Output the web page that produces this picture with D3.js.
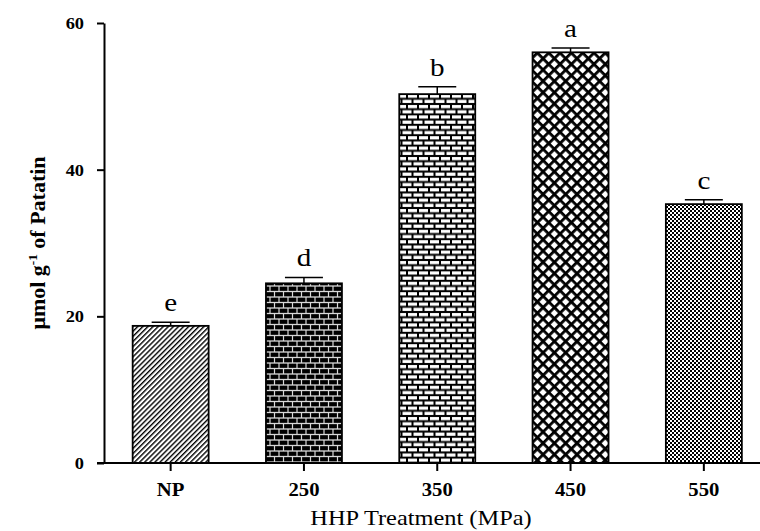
<!DOCTYPE html>
<html>
<head>
<meta charset="utf-8">
<script src="https://cdn.jsdelivr.net/npm/d3@7"></script>
<style>
  body { margin: 0; background: #fff; }
  text { font-family: "Liberation Serif", "DejaVu Serif", serif; fill: #000; }
</style>
</head>
<body>
<svg id="chart" width="760" height="531"></svg>
<script>
// values
var categories = ["NP", "250", "350", "450", "550"];
var means = [18.7, 24.5, 50.3, 56.0, 35.3];
var errors = [0.5, 0.8, 1.0, 0.6, 0.6];
var letters = ["e", "d", "b", "a", "c"];
var fills = ["p-diag", "p-brick-dark", "p-brick-light", "p-cross", "p-check"];
var yTicks = [0, 20, 40, 60];

var svg = d3.select("#chart");
var defs = svg.append("defs");

// hatch patterns
var diag = defs.append("pattern").attr("id", "p-diag")
    .attr("patternUnits", "userSpaceOnUse")
    .attr("width", 3.6).attr("height", 3.6)
    .attr("patternTransform", "rotate(45)");
diag.append("rect").attr("width", 3.6).attr("height", 3.6).attr("fill", "#fff");
diag.append("rect").attr("width", 1.4).attr("height", 3.6).attr("fill", "#000");

function brick(id, w, h, bg, fg, bw, bh) {
    var p = defs.append("pattern").attr("id", id)
        .attr("patternUnits", "userSpaceOnUse")
        .attr("width", w).attr("height", h * 2);
    p.append("rect").attr("width", w).attr("height", h * 2).attr("fill", bg);
    var gx = (w - bw) / 2, gy = (h - bh) / 2;
    p.append("rect").attr("x", gx).attr("y", gy).attr("width", bw).attr("height", bh).attr("fill", fg);
    p.append("rect").attr("x", gx - w / 2).attr("y", h + gy).attr("width", bw).attr("height", bh).attr("fill", fg);
    p.append("rect").attr("x", gx + w / 2).attr("y", h + gy).attr("width", bw).attr("height", bh).attr("fill", fg);
}
brick("p-brick-dark", 9, 5.5, "#d8d8d8", "#000", 7.8, 4.2);
brick("p-brick-light", 11, 5.2, "#000", "#fff", 9.0, 3.2);

var cross = defs.append("pattern").attr("id", "p-cross")
    .attr("patternUnits", "userSpaceOnUse")
    .attr("width", 8).attr("height", 8)
    .attr("patternTransform", "rotate(45)");
cross.append("rect").attr("width", 8).attr("height", 8).attr("fill", "#fff");
cross.append("rect").attr("width", 8).attr("height", 2.8).attr("fill", "#000");
cross.append("rect").attr("width", 2.8).attr("height", 8).attr("fill", "#000");

var check = defs.append("pattern").attr("id", "p-check")
    .attr("patternUnits", "userSpaceOnUse")
    .attr("width", 4).attr("height", 4);
check.append("rect").attr("width", 4).attr("height", 4).attr("fill", "#fff");
check.append("rect").attr("width", 2).attr("height", 2).attr("fill", "#000");
check.append("rect").attr("x", 2).attr("y", 2).attr("width", 2).attr("height", 2).attr("fill", "#000");

var x = d3.scaleBand()
    .domain(categories)
    .range([104, 770.5])
    .paddingInner(0.43)
    .paddingOuter(0.215);

var y = d3.scaleLinear()
    .domain([0, 60])
    .range([463, 23]);

var data = categories.map(function(c, i) {
    return { cat: c, value: means[i], err: errors[i], letter: letters[i], fill: fills[i] };
});

// bars
svg.append("g").selectAll("rect")
    .data(data)
    .enter().append("rect")
    .attr("x", function(d) { return x(d.cat); })
    .attr("y", function(d) { return y(d.value); })
    .attr("width", x.bandwidth())
    .attr("height", function(d) { return y(0) - y(d.value); })
    .attr("fill", function(d) { return "url(#" + d.fill + ")"; })
    .attr("stroke", "#000")
    .attr("stroke-width", 1.8);

// error bars (upper only)
var eb = svg.append("g").attr("stroke", "#000").attr("stroke-width", 1.5);
eb.selectAll("line.stem")
    .data(data)
    .enter().append("line")
    .attr("class", "stem")
    .attr("x1", function(d) { return x(d.cat) + x.bandwidth() / 2; })
    .attr("x2", function(d) { return x(d.cat) + x.bandwidth() / 2; })
    .attr("y1", function(d) { return y(d.value); })
    .attr("y2", function(d) { return y(d.value + d.err); });
eb.selectAll("line.cap")
    .data(data)
    .enter().append("line")
    .attr("class", "cap")
    .attr("x1", function(d) { return x(d.cat) + x.bandwidth() / 4; })
    .attr("x2", function(d) { return x(d.cat) + x.bandwidth() * 3 / 4; })
    .attr("y1", function(d) { return y(d.value + d.err); })
    .attr("y2", function(d) { return y(d.value + d.err); });

// significance letters
svg.append("g").selectAll("text")
    .data(data)
    .enter().append("text")
    .attr("transform", function(d) {
        return "translate(" + (x(d.cat) + x.bandwidth() / 2) + "," + (y(d.value + d.err) - 11) + ") scale(1.12,1)";
    })
    .attr("text-anchor", "middle")
    .style("font-size", "26px")
    .text(function(d) { return d.letter; });

// x axis
var gx = svg.append("g")
    .attr("transform", "translate(0,463)")
    .call(d3.axisBottom(x).tickSize(8).tickSizeOuter(0).tickPadding(12));
gx.select(".domain").remove();
gx.selectAll(".tick line").attr("stroke-width", 2);
gx.selectAll(".tick text")
    .attr("transform", "scale(1.12,1)")
    .style("font-family", "'Liberation Serif', serif")
    .style("font-size", "18.5px")
    .style("font-weight", "bold");
gx.append("line")
    .attr("x1", 97).attr("x2", 760)
    .attr("stroke", "#000").attr("stroke-width", 2);

// y axis
var gy = svg.append("g")
    .attr("transform", "translate(104,0)")
    .call(d3.axisLeft(y).tickValues(yTicks).tickSize(7).tickSizeOuter(0).tickPadding(13));
gy.select(".domain").attr("stroke-width", 2);
gy.selectAll(".tick line").attr("stroke-width", 2);
gy.selectAll(".tick text")
    .attr("transform", "scale(1.05,1)")
    .attr("x", -20 / 1.05)
    .style("font-family", "'Liberation Serif', serif")
    .style("font-size", "17.5px")
    .style("font-weight", "bold");

// axis titles
svg.append("text")
    .attr("transform", "translate(421,525) scale(1.22,1)")
    .attr("text-anchor", "middle")
    .style("font-size", "20px")
    .text("HHP Treatment (MPa)");

var yt = svg.append("text")
    .attr("transform", "translate(45,243) rotate(-90) scale(1.1,1)")
    .attr("text-anchor", "middle")
    .style("font-size", "20px")
    .style("font-weight", "bold");
yt.append("tspan").text("\u03bcmol g");
yt.append("tspan").attr("dy", -8).style("font-size", "12px").text("-1");
yt.append("tspan").attr("dy", 8).text(" of Patatin");
</script>
</body>
</html>
